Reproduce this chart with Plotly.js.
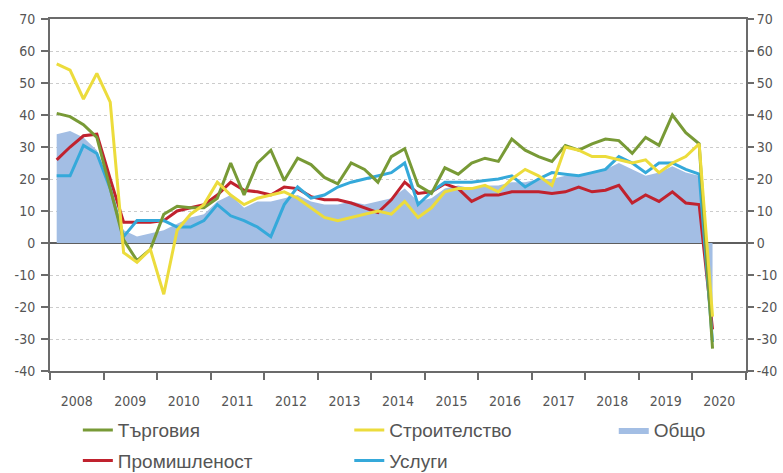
<!DOCTYPE html>
<html>
<head>
<meta charset="utf-8">
<script src="https://cdn.plot.ly/plotly-3.0.1.min.js"></script>
<style>
html,body{margin:0;padding:0;background:#fff;}
#chart{width:783px;height:473px;}
</style>
</head>
<body>
<div id="chart"></div>
<script>
// Tick labels (years), y tick labels and quarterly categories
const years = [2008, 2009, 2010, 2011, 2012, 2013, 2014, 2015, 2016, 2017, 2018, 2019, 2020];
const yTickVals = [-40, -30, -20, -10, 0, 10, 20, 30, 40, 50, 60, 70];
const yTickText = ['-40', '-30', '-20', '-10', '0', '10', '20', '30', '40', '50', '60', '70'];
const quarterCount = 50; // 2008 Q1 .. 2020 Q2

// Series values (balance, %)
const trade = [40.5, 39.5, 37, 33, 17, 1, -5.5, -2, 9, 11.5, 11, 11, 14, 25, 15, 25, 29, 19.5, 26.5, 24.5, 20.5, 18.5, 25, 23, 19, 27, 29.5, 18, 15.5, 23.5, 21.5, 25, 26.5, 25.5, 32.5, 29, 27, 25.5, 30.5, 29, 31, 32.5, 32, 28, 33, 30.5, 40, 34.5, 31, -33];
const industry = [26, 30, 33.5, 34, 20, 6.5, 6.5, 6.5, 7, 10, 11, 12, 15, 19, 16.5, 16, 15, 17.5, 17, 14.5, 13.5, 13.5, 12.5, 11, 9.5, 13.5, 19, 15.5, 16, 18.5, 17, 13, 15, 15, 16, 16, 16, 15.5, 16, 17.5, 16, 16.5, 18, 12.5, 15, 13, 16, 12.5, 12, -27];
const construction = [56, 54, 45, 53, 44, -3, -6, -2, -16, 4, 9, 12, 19, 15, 12, 14, 15, 16, 14, 11, 8, 7, 8, 9, 10, 9, 13, 8, 11, 16, 17, 17, 18, 16, 20, 23, 21, 18, 30, 29, 27, 27, 26, 25, 26, 22, 25, 27, 31, -23];
const services = [21, 21, 30.5, 28, 17, 2, 7, 7, 7, 5, 5, 7, 12, 8.5, 7, 5, 2, 12, 17.5, 14, 15, 17.5, 19, 20, 21, 22, 25, 12, 16, 19, 19, 19, 19.5, 20, 21, 17.5, 20, 22, 21.5, 21, 22, 23, 27, 25, 22, 25, 25, 23, 21.5, -31];
const total = [34, 35, 33, 29, 17, 4, 2, 3, 4, 6, 8, 9, 13, 15, 11, 13, 13, 14, 15, 13, 12, 12, 13, 12, 13, 14, 17, 13, 14, 17, 18, 17, 18, 18, 19, 19, 20, 20, 21, 21, 22, 23, 25, 23, 21, 22, 24, 22, 21, -28];

const names = {
  trade: 'Търговия',
  industry: 'Промишленост',
  construction: 'Строителство',
  services: 'Услуги',
  total: 'Общо'
};

// quarter positions on the time axis (centre of each quarter)
const xq = [];
for (let i = 0; i < quarterCount; i++) xq.push(years[0] + (i + 0.5) / 4);

const yearBounds = years.concat([years[years.length - 1] + 1]);
const yearMids = years.map(y => y + 0.5);
const yearText = years.map(String);

const FONT = 'Liberation Sans, Arial, sans-serif';
const TICKFONT = 'DejaVu Sans Condensed, Liberation Sans, Arial, sans-serif';
const TXT = '#555555';
const AX = '#6b6b6b';

const lineTrace = (y, name, color, legend, group) => ({
  x: xq, y: y, name: name, type: 'scatter', mode: 'lines',
  line: {color: color, width: 3},
  legend: legend, legendgroup: group, hoverinfo: 'skip'
});

const data = [
  {x: xq, y: total, name: names.total, type: 'scatter', mode: 'lines',
   fill: 'tozeroy', fillcolor: '#a3bee4', line: {width: 0, color: '#a3bee4'},
   legend: 'legend3', legendgroup: 'g5', hoverinfo: 'skip'},
  lineTrace(industry, names.industry, '#c0222e', 'legend', 'g2'),
  lineTrace(services, names.services, '#35a9da', 'legend2', 'g4'),
  lineTrace(trade, names.trade, '#789a36', 'legend', 'g1'),
  lineTrace(construction, names.construction, '#ecdc3c', 'legend2', 'g3'),
  // helper traces so that the label axis and the right axis are drawn
  {x: [yearMids[0]], y: [0], xaxis: 'x2', yaxis: 'y', mode: 'markers',
   marker: {opacity: 0}, showlegend: false, hoverinfo: 'skip'},
  {x: [yearMids[0]], y: [0], xaxis: 'x', yaxis: 'y2', mode: 'markers',
   marker: {opacity: 0}, showlegend: false, hoverinfo: 'skip'}
];

const legendBase = {
  orientation: 'v', bgcolor: 'rgba(0,0,0,0)', borderwidth: 0,
  font: {family: FONT, size: 19, color: TXT},
  tracegroupgap: 3, yanchor: 'top', xanchor: 'left',
  xref: 'paper', yref: 'container'
};

const yAxisCommon = {
  range: [-40, 70], tickmode: 'array', tickvals: yTickVals, ticktext: yTickText,
  ticks: 'outside', ticklen: 7, tickwidth: 2, tickcolor: AX,
  tickfont: {family: TICKFONT, size: 14, color: TXT},
  showline: true, linecolor: AX, linewidth: 2
};

const layout = {
  width: 783, height: 473,
  margin: {l: 50, r: 37, t: 19, b: 102},
  paper_bgcolor: '#ffffff', plot_bgcolor: '#ffffff',
  font: {family: FONT, color: TXT, size: 15},
  xaxis: {
    range: [yearBounds[0], yearBounds[yearBounds.length - 1]],
    tickmode: 'array', tickvals: yearBounds, showticklabels: false,
    ticks: 'outside', ticklen: 7, tickwidth: 2, tickcolor: AX,
    showline: true, linecolor: AX, linewidth: 2, mirror: true,
    showgrid: false, zeroline: false, fixedrange: true
  },
  xaxis2: {
    overlaying: 'x', anchor: 'y', side: 'bottom',
    range: [yearBounds[0], yearBounds[yearBounds.length - 1]],
    tickmode: 'array', tickvals: yearMids, ticktext: yearText,
    ticks: 'outside', ticklen: 17, tickcolor: 'rgba(0,0,0,0)',
    tickfont: {family: TICKFONT, size: 14, color: TXT},
    showline: false, showgrid: false, zeroline: false
  },
  yaxis: Object.assign({}, yAxisCommon, {
    ticklabelstandoff: 3,
    showgrid: true, gridcolor: '#cccccc', gridwidth: 1, griddash: 'dot',
    zeroline: true, zerolinecolor: '#5e5e5e', zerolinewidth: 2
  }),
  yaxis2: Object.assign({}, yAxisCommon, {
    overlaying: 'y', side: 'right', anchor: 'x', ticklen: 6,
    showgrid: false, zeroline: false
  }),
  legend: Object.assign({}, legendBase, {x: 0.04, y: 0.131}),
  legend2: Object.assign({}, legendBase, {x: 0.43, y: 0.131}),
  legend3: Object.assign({}, legendBase, {x: 0.81, y: 0.131}),
  showlegend: true
};

// order legend entries: trade above industry; construction above services
data[3].legendrank = 1; data[1].legendrank = 2;
data[4].legendrank = 1; data[2].legendrank = 2;

Plotly.newPlot('chart', data, layout, {displayModeBar: false, staticPlot: true});
</script>
</body>
</html>
